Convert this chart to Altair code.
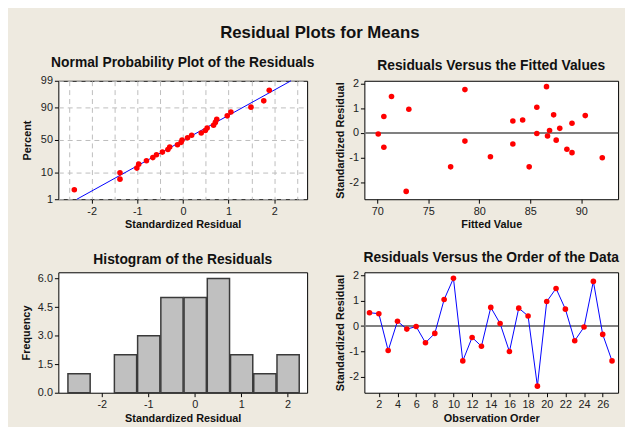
import altair as alt
import pandas as pd
import numpy as np
from statistics import NormalDist

# ---- data ----
residuals = [0.53, 0.49, -0.97, 0.19, -0.12, -0.02, -0.66, -0.29, 1.05, 1.89,
             -1.38, -0.45, -0.80, 0.74, 0.10, -1.01, 0.71, 0.40, -2.38, 0.97,
             1.49, 0.67, -0.58, -0.04, 1.77, -0.33, -1.38]
fitted = [84.26, 83.3, 81.1, 87.9, 86.7, 85.65, 88.6, 87.55, 85.65, 86.6,
          84.9, 83.3, 89.1, 87.3, 86.9, 92.07, 90.4, 89.1, 72.84, 73.1,
          71.4, 70.65, 70.65, 70.1, 78.6, 78.6, 77.2]
order = list(range(1, len(residuals) + 1))

percent_ticks = [1, 10, 50, 90, 99]
npp_x_grid = [-2.5, -2, -1.5, -1, -0.5, 0, 0.5, 1, 1.5, 2, 2.5]
resid_ticks = [-2, -1, 0, 1, 2]
fitted_ticks = [70, 75, 80, 85, 90]
order_ticks = list(range(2, 27, 2))
freq_ticks = [0.0, 1.5, 3.0, 4.5, 6.0]
ref_value = [0]

df = pd.DataFrame({"resid": residuals, "fitted": fitted, "order": order})
nd = NormalDist()
z_ticks = [nd.inv_cdf(p / 100) for p in percent_ticks]
mu = float(np.mean(residuals))
sd = float(np.std(residuals, ddof=1))
line_df = pd.DataFrame({"p": [percent_ticks[0] / 100, percent_ticks[-1] / 100]})
zero_df = pd.DataFrame({"y": ref_value})

FONT = "Liberation Sans"
BG = "#EEEAE0"
INT_LABEL = "'' + datum.value"


def ptitle(text):
    return alt.TitleParams(text, font=FONT, fontSize=14, fontWeight="bold",
                           color="#111", offset=5, anchor="middle")


# ---- Normal probability plot ----
npp_base = (
    alt.Chart(df)
    .transform_window(rank="row_number()", sort=[alt.SortField("resid")])
    .transform_joinaggregate(n="count()")
    .transform_calculate(z="quantileNormal((datum.rank - 0.3) / (datum.n + 0.4))")
)
npp_x = alt.X(
    "resid:Q",
    scale=alt.Scale(domain=[-2.73, 2.72], nice=False, zero=False),
    axis=alt.Axis(
        values=npp_x_grid, tickCount=len(npp_x_grid), grid=True,
        gridDash=[5, 4], gridColor="#BDBDBD",
        labelExpr="abs(datum.value % 1) < 0.01 ? '' + datum.value : ''",
        labelOverlap=False,
        tickOpacity={"condition": {"test": "abs(datum.value % 1) < 0.01", "value": 1}, "value": 0},
        title="Standardized Residual",
    ),
)
npp_y = alt.Y(
    "z:Q",
    scale=alt.Scale(domain=[z_ticks[0], z_ticks[-1]], nice=False, zero=False),
    axis=alt.Axis(
        values=z_ticks, tickCount=len(z_ticks), grid=True,
        gridDash=[5, 4], gridColor="#BDBDBD", labelOverlap=False,
        labelExpr="format(cumulativeNormal(datum.value) * 100, 'd')",
        title="Percent", titlePadding=8,
    ),
)
npp_pts = npp_base.mark_circle(color="#FF0000", size=32, opacity=1).encode(x=npp_x, y=npp_y)
npp_line = (
    alt.Chart(line_df)
    .transform_calculate(resid=f"{mu} + {sd} * quantileNormal(datum.p)",
                         z="quantileNormal(datum.p)")
    .mark_line(color="#0000FF", strokeWidth=1)
    .encode(x="resid:Q", y="z:Q")
)
npp = alt.layer(npp_line, npp_pts).properties(
    width=252, height=120, title=ptitle("Normal Probability Plot of the Residuals"))

# ---- Residuals vs fitted ----
fit_x = alt.X("fitted:Q", scale=alt.Scale(domain=[68.74, 93.62], nice=False, zero=False),
              axis=alt.Axis(values=fitted_ticks, tickCount=len(fitted_ticks),
                            labelOverlap=False, title="Fitted Value"))
fit_y = alt.Y("resid:Q", scale=alt.Scale(domain=[-2.70, 2.13], nice=False, zero=False),
              axis=alt.Axis(values=resid_ticks, tickCount=len(resid_ticks), labelOverlap=False,
                            labelExpr=INT_LABEL, title="Standardized Residual"))
fit_ref = alt.Chart(zero_df).mark_rule(color="#808080", strokeWidth=2).encode(y=alt.Y("y:Q"))
fit_pts = alt.Chart(df).mark_circle(color="#FF0000", size=32, opacity=1).encode(x=fit_x, y=fit_y)
fit = alt.layer(fit_ref, fit_pts).properties(
    width=257, height=120, title=ptitle("Residuals Versus the Fitted Values"))

# ---- Histogram ----
hist = (
    alt.Chart(df)
    .transform_bin("bin_start", "resid", bin=alt.Bin(extent=[-2.75, 2.25], step=0.5, nice=False))
    .mark_bar(fill="#C0C0C0", stroke="#3A3A3A", strokeWidth=1.5)
    .encode(
        x=alt.X("bin_start:Q", bin="binned",
                scale=alt.Scale(domain=[-2.935, 2.42], nice=False, zero=False),
                axis=alt.Axis(values=resid_ticks, tickCount=len(resid_ticks), labelOverlap=False,
                              labelExpr=INT_LABEL, title="Standardized Residual")),
        x2="bin_start_end:Q",
        y=alt.Y("count():Q", scale=alt.Scale(domain=[0, 6.33], nice=False),
                axis=alt.Axis(values=freq_ticks, tickCount=len(freq_ticks), labelOverlap=False,
                              labelExpr="format(datum.value, '.1f')", title="Frequency",
                              titlePadding=6)),
    )
    .properties(width=252, height=122, title=ptitle("Histogram of the Residuals"))
)

# ---- Residuals vs order ----
ord_x = alt.X("order:Q", scale=alt.Scale(domain=[0.45, 27.65], nice=False, zero=False),
              axis=alt.Axis(values=order_ticks, tickCount=len(order_ticks), labelOverlap=False,
                            title="Observation Order"))
ord_y = alt.Y("resid:Q", scale=alt.Scale(domain=[-2.64, 2.13], nice=False, zero=False),
              axis=alt.Axis(values=resid_ticks, tickCount=len(resid_ticks), labelOverlap=False,
                            labelExpr=INT_LABEL, title="Standardized Residual"))
ord_ref = alt.Chart(zero_df).mark_rule(color="#808080", strokeWidth=2).encode(y=alt.Y("y:Q"))
ord_line = alt.Chart(df).mark_line(color="#0000FF", strokeWidth=1).encode(x=ord_x, y=ord_y)
ord_pts = alt.Chart(df).mark_circle(color="#FF0000", size=32, opacity=1).encode(x=ord_x, y=ord_y)
orderc = alt.layer(ord_ref, ord_line, ord_pts).properties(
    width=257, height=122, title=ptitle("Residuals Versus the Order of the Data"))

chart = (
    alt.concat(npp, fit, hist, orderc, columns=2,
               spacing={"row": 74, "column": 58}, bounds="flush",
               title=alt.TitleParams("Residual Plots for Means", font=FONT, fontSize=17,
                                     fontWeight="bold", color="#111", anchor="middle", offset=14))
    .configure(background=BG, padding={"left": 12, "top": 13, "right": 5, "bottom": 0})
    .configure_view(stroke="#000000", strokeWidth=1, fill="white")
    .configure_axis(
        labelFont=FONT, labelFontSize=11, labelColor="#222", labelPadding=2,
        titleFont=FONT, titleFontSize=11, titleFontWeight="bold", titleColor="#111",
        titlePadding=3, tickColor="#000", tickSize=4, domain=False, grid=False,
    )
)

chart.save("out.html", embed_options={"renderer": "svg", "actions": False})
